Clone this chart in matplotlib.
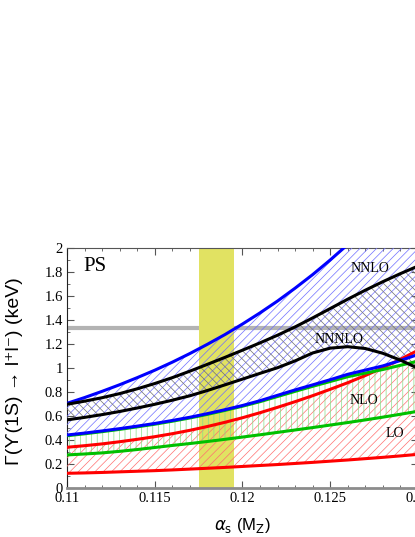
import numpy as np
import matplotlib
matplotlib.use("Agg")
import matplotlib.pyplot as plt

# alpha_s grid (0.001 steps) and band edges
alpha_s = [0.110, 0.111, 0.112, 0.113, 0.114, 0.115, 0.116, 0.117, 0.118, 0.119, 0.120,
           0.121, 0.122, 0.123, 0.124, 0.125, 0.126, 0.127, 0.128, 0.129, 0.130]

lo_low = [0.125, 0.128, 0.132, 0.137, 0.142, 0.147, 0.153, 0.160, 0.167, 0.174, 0.182,
          0.190, 0.198, 0.207, 0.216, 0.226, 0.236, 0.247, 0.258, 0.270, 0.283]
lo_high = [0.342, 0.355, 0.370, 0.388, 0.408, 0.430, 0.455, 0.483, 0.515, 0.550, 0.588,
           0.630, 0.675, 0.722, 0.772, 0.825, 0.880, 0.940, 1.005, 1.075, 1.150]

nlo_low = [0.278, 0.286, 0.295, 0.308, 0.323, 0.340, 0.357, 0.373, 0.390, 0.408, 0.427,
           0.446, 0.466, 0.486, 0.506, 0.527, 0.548, 0.570, 0.593, 0.617, 0.642]
nlo_high = [0.438, 0.454, 0.472, 0.491, 0.512, 0.534, 0.559, 0.586, 0.616, 0.649, 0.684,
            0.722, 0.765, 0.808, 0.850, 0.890, 0.930, 0.960, 0.990, 1.025, 1.060]

nnlo_low = [0.444, 0.460, 0.478, 0.497, 0.518, 0.540, 0.565, 0.592, 0.622, 0.655, 0.690,
            0.730, 0.775, 0.820, 0.862, 0.905, 0.950, 0.985, 1.020, 1.065, 1.115]
nnlo_high = [0.708, 0.756, 0.808, 0.863, 0.922, 0.984, 1.051, 1.123, 1.200, 1.281, 1.369,
             1.462, 1.561, 1.668, 1.781, 1.903, 2.032, 2.171, 2.319, 2.477, 2.645]

nnnlo_low = [0.570, 0.591, 0.614, 0.640, 0.669, 0.700, 0.734, 0.771, 0.815, 0.862, 0.910,
             0.958, 1.005, 1.062, 1.128, 1.168, 1.180, 1.165, 1.125, 1.068, 1.000]
nnnlo_high = [0.700, 0.726, 0.755, 0.789, 0.829, 0.873, 0.922, 0.976, 1.033, 1.091, 1.151,
              1.212, 1.276, 1.345, 1.420, 1.498, 1.576, 1.651, 1.722, 1.789, 1.852]

exp_value = 1.34            # measured width (gray line)
alpha_band = (0.1175, 0.1195)

xticks = [0.11, 0.115, 0.12, 0.125, 0.13]
xticklabels = ["0.11", "0.115", "0.12", "0.125", "0.13"]
yticks = [0, 0.2, 0.4, 0.6, 0.8, 1, 1.2, 1.4, 1.6, 1.8, 2]
yticklabels = ["0", "0.2", "0.4", "0.6", "0.8", "1", "1.2", "1.4", "1.6", "1.8", "2"]

plt.rcParams['hatch.linewidth'] = 0.5
plt.rcParams['mathtext.fontset'] = 'dejavusans'

fig = plt.figure(figsize=(4.15, 5.37), dpi=100)
ax = fig.add_axes([0.1614, 0.0907, 0.8458, 0.4469])

x = np.array(alpha_s)

ax.axhline(exp_value, color='#b3b3b3', lw=3.0, zorder=1)
ax.axvspan(alpha_band[0], alpha_band[1], color='#e1e262', lw=0, zorder=2)

# hatched bands
ax.fill_between(x, lo_low, lo_high, facecolor='none', edgecolor='#ff7070', hatch='////', lw=0, zorder=3)
ax.fill_between(x, nlo_low, nlo_high, facecolor='none', edgecolor='#88dd88', hatch='|||', lw=0, zorder=3)
ax.fill_between(x, nnlo_low, nnlo_high, facecolor='none', edgecolor='#6f6fff', hatch='////', lw=0, zorder=3)
ax.fill_between(x, nnnlo_low, nnnlo_high, facecolor='none', edgecolor='#707070',
                hatch='\\\\\\\\', lw=0, zorder=3)

# band edges
lw = 2.2
ax.plot(x, lo_low, color='#ff0000', lw=lw, zorder=4)
ax.plot(x, lo_high, color='#ff0000', lw=lw, zorder=4)
ax.plot(x, nlo_low, color='#00c000', lw=lw, zorder=4)
ax.plot(x, nlo_high, color='#00c000', lw=lw, zorder=4)
ax.plot(x, nnlo_low, color='#0000ff', lw=lw, zorder=5)
ax.plot(x, nnlo_high, color='#0000ff', lw=lw, zorder=5)
ax.plot(x, nnnlo_low, color='black', lw=lw, zorder=5)
ax.plot(x, nnnlo_high, color='black', lw=lw, zorder=5)

serif = 'Liberation Serif'
ax.text(0.1116, 1.85, "PS", fontsize=15, family=serif, ha='center', va='center', zorder=6)
ax.text(0.12726, 1.83, "NNLO", fontsize=10, family=serif, ha='center', va='center', zorder=6)
ax.text(0.12552, 1.24, "NNNLO", fontsize=10, family=serif, ha='center', va='center', zorder=6)
ax.text(0.12694, 0.73, "NLO", fontsize=10, family=serif, ha='center', va='center', zorder=6)
ax.text(0.12868, 0.46, "LO", fontsize=10, family=serif, ha='center', va='center', zorder=6)

ax.set_xlim(0.11, 0.13)
ax.set_ylim(0, 2)
ax.set_xticks(xticks)
ax.set_xticklabels(xticklabels, family=serif, fontsize=10.5)
ax.set_yticks(yticks)
ax.set_yticklabels(yticklabels, family=serif, fontsize=10.5)
ax.set_xticks(np.arange(0.11, 0.1305, 0.001), minor=True)
ax.set_yticks(np.arange(0, 2.01, 0.1), minor=True)
ax.tick_params(which='both', direction='in', top=True, right=True, color='#555555')
ax.tick_params(which='major', length=5, width=0.8, pad=3)
ax.tick_params(which='minor', length=2.5, width=0.6)

ax.spines['bottom'].set_color('#8c8c8c')
ax.spines['bottom'].set_linewidth(2)
ax.spines['top'].set_color('#555555')
ax.spines['left'].set_color('#222222')

ax.set_xlabel(r"$\alpha_{\rm s}$ (M$_{\rm Z}$)", fontsize=12, family=['Liberation Sans', 'DejaVu Sans'])
ax.set_ylabel("\u0393(\u03d2(1S) \u2192 l\u207al\u207b) (keV)", fontsize=14,
              family=['Liberation Sans', 'DejaVu Sans'])
ax.xaxis.set_label_coords(0.5, -0.115)
ax.yaxis.set_label_coords(-0.125, 0.49)

fig.savefig("out.png", dpi=100)
